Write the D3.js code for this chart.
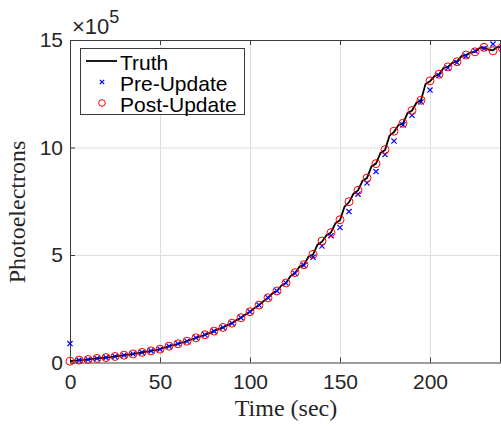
<!DOCTYPE html>
<html>
<head>
<meta charset="utf-8">
<script src="https://cdn.jsdelivr.net/npm/d3@7"></script>
<style>
  body { margin: 0; background: #fff; }
  svg { display: block; }
  .tick text { font-family: "Liberation Sans", Arial, sans-serif; font-size: 21px; fill: #262626; }
</style>
</head>
<body>
<div id="chart"></div>
<script>
// marker times (every 5 s)
var markerTime = d3.range(0, 241, 5);
// Post-Update estimates (x1e5)
var postUpdate = [0.06, 0.11, 0.14, 0.19, 0.23, 0.28, 0.34, 0.40, 0.47, 0.54,
  0.62, 0.76, 0.87, 0.99, 1.15, 1.29, 1.46, 1.63, 1.83, 2.08,
  2.36, 2.67, 3.01, 3.33, 3.70, 4.18, 4.55, 5.03, 5.65, 6.04,
  6.64, 7.48, 8.01, 8.58, 9.25, 9.90, 10.76, 11.13, 11.72, 12.20,
  13.10, 13.41, 13.75, 13.99, 14.30, 14.45, 14.66, 14.50, 14.65];
// Pre-Update estimates (x1e5)
var preUpdate = [0.88, 0.11, 0.14, 0.19, 0.23, 0.28, 0.34, 0.40, 0.47, 0.54,
  0.62, 0.76, 0.87, 0.99, 1.15, 1.29, 1.46, 1.63, 1.83, 2.08,
  2.36, 2.67, 3.01, 3.33, 3.70, 4.15, 4.52, 4.90, 5.42, 5.90,
  6.28, 7.02, 7.83, 8.35, 8.88, 9.67, 10.30, 11.05, 11.50, 12.12,
  12.67, 13.35, 13.70, 13.95, 14.25, 14.50, 14.60, 14.81, 14.60];
// Truth (every 2.5 s, x1e5)
var truthTime = d3.range(0, 240.1, 2.5);
var truth = [0.06, 0.09, 0.11, 0.12, 0.14, 0.17, 0.19, 0.21, 0.23, 0.25,
  0.28, 0.31, 0.34, 0.37, 0.40, 0.43, 0.47, 0.51, 0.54, 0.58,
  0.62, 0.69, 0.76, 0.81, 0.87, 0.93, 0.99, 1.07, 1.15, 1.22,
  1.29, 1.37, 1.46, 1.55, 1.63, 1.74, 1.83, 1.97, 2.08, 2.23,
  2.36, 2.53, 2.67, 2.85, 3.01, 3.22, 3.33, 3.58, 3.70, 4.02,
  4.16, 4.45, 4.55, 4.92, 5.02, 5.48, 5.62, 5.92, 6.05, 6.48,
  6.62, 7.25, 7.45, 7.85, 8.00, 8.45, 8.58, 9.12, 9.25, 9.75,
  9.88, 10.55, 10.72, 11.05, 11.12, 11.60, 11.72, 12.08, 12.20, 12.95,
  13.08, 13.32, 13.40, 13.70, 13.75, 13.95, 14.00, 14.25, 14.30, 14.42,
  14.45, 14.62, 14.65, 14.55, 14.52, 14.68, 14.62];
var xTicks = [0, 50, 100, 150, 200];
var yTicks = [0, 5, 10, 15];
var legendLabels = ["Truth", "Pre-Update", "Post-Update"];

var width = 501, height = 427;
var margin = {top: 40, right: 0.5, bottom: 64.5, left: 70};
var axisColor = "#3a3a3a";

var svg = d3.select("#chart").append("svg")
  .attr("width", width)
  .attr("height", height);

var x = d3.scaleLinear().domain([0, 240]).range([margin.left, width - margin.right + 1.5]);
var y = d3.scaleLinear().domain([0, 15]).range([height - margin.bottom, margin.top]);
var plotH = y(0) - y(15);

svg.append("defs").append("clipPath").attr("id", "clip")
  .append("rect")
  .attr("x", margin.left).attr("y", margin.top)
  .attr("width", width - margin.right - margin.left).attr("height", plotH);

// grid
var grid = svg.append("g").attr("class", "grid");
grid.append("g")
  .attr("transform", "translate(0," + y(0) + ")")
  .call(d3.axisBottom(x).tickValues(xTicks.slice(1)).tickSize(-plotH).tickFormat(""));
grid.append("g")
  .attr("transform", "translate(" + margin.left + ",0)")
  .call(d3.axisLeft(y).tickValues(yTicks.slice(1, 3)).tickSize(-(width - margin.left)).tickFormat(""));
grid.selectAll(".tick line").attr("stroke", "#dedede").attr("stroke-width", 1);
grid.selectAll(".domain").remove();

// box edges
svg.append("line")
  .attr("x1", width - 0.5).attr("x2", width - 0.5)
  .attr("y1", y(15)).attr("y2", y(0))
  .attr("stroke", axisColor);
var topAxis = svg.append("g")
  .attr("transform", "translate(0," + y(15) + ")")
  .call(d3.axisTop(x).tickValues(xTicks).tickSize(-5).tickSizeOuter(0).tickFormat(""));

// axes
var xAxis = svg.append("g")
  .attr("transform", "translate(0," + y(0) + ")")
  .call(d3.axisBottom(x).tickValues(xTicks).tickSize(-5).tickSizeOuter(0).tickPadding(12));
var yAxis = svg.append("g")
  .attr("transform", "translate(" + margin.left + ",0)")
  .call(d3.axisLeft(y).tickValues(yTicks).tickSize(-5).tickSizeOuter(0).tickPadding(7));
[topAxis, xAxis, yAxis].forEach(function(g) {
  g.selectAll(".domain").attr("stroke", axisColor).attr("stroke-width", 1);
  g.selectAll(".tick line").attr("stroke", axisColor);
});

// exponent
var expo = svg.append("text")
  .attr("x", 72).attr("y", 34)
  .style("font-family", "Liberation Sans, Arial, sans-serif")
  .style("font-size", "22px")
  .attr("fill", "#262626");
expo.append("tspan").text("\u00d710");
expo.append("tspan").attr("dy", -11).style("font-size", "18px").text("5");

// axis labels
svg.append("text")
  .attr("x", 286).attr("y", 416)
  .attr("text-anchor", "middle")
  .style("font-family", "Liberation Serif, Times New Roman, serif")
  .style("font-size", "24px")
  .attr("fill", "#262626")
  .text("Time (sec)");
svg.append("text")
  .attr("transform", "translate(25," + 212 + ") rotate(-90)")
  .attr("text-anchor", "middle")
  .style("font-family", "Liberation Serif, Times New Roman, serif")
  .style("font-size", "24px")
  .attr("fill", "#262626")
  .text("Photoelectrons");

// data
var plot = svg.append("g").attr("clip-path", "url(#clip)");
var line = d3.line().x(function(d, i) { return x(truthTime[i]); }).y(function(d) { return y(d); });
plot.append("path")
  .datum(truth)
  .attr("d", line)
  .attr("fill", "none")
  .attr("stroke", "#000")
  .attr("stroke-width", 1.8);

function crossPath(s) {
  return "M" + (-s) + "," + (-s) + "L" + s + "," + s + "M" + (-s) + "," + s + "L" + s + "," + (-s);
}

svg.append("g").selectAll("path")
  .data(preUpdate)
  .enter().append("path")
  .attr("transform", function(d, i) { return "translate(" + x(markerTime[i]) + "," + y(d) + ")"; })
  .attr("d", crossPath(2.6))
  .attr("stroke", "#0000ff")
  .attr("stroke-width", 1.2)
  .attr("fill", "none");

svg.append("g").selectAll("circle")
  .data(postUpdate)
  .enter().append("circle")
  .attr("cx", function(d, i) { return x(markerTime[i]); })
  .attr("cy", function(d) { return y(d); })
  .attr("r", 4)
  .attr("fill", "none")
  .attr("stroke", "#ff0000")
  .attr("stroke-width", 1);

// legend
var legend = svg.append("g");
legend.append("rect")
  .attr("x", 80.5).attr("y", 48.5)
  .attr("width", 164).attr("height", 66)
  .attr("fill", "#fff")
  .attr("stroke", axisColor)
  .attr("stroke-width", 1);
var rows = [61, 82, 103];
legend.append("line")
  .attr("x1", 86).attr("x2", 117).attr("y1", rows[0]).attr("y2", rows[0])
  .attr("stroke", "#000").attr("stroke-width", 1.8);
legend.append("path")
  .attr("transform", "translate(102," + rows[1] + ")")
  .attr("d", crossPath(2.2))
  .attr("stroke", "#0000ff").attr("stroke-width", 1.2);
legend.append("circle")
  .attr("cx", 102).attr("cy", rows[2]).attr("r", 3.3)
  .attr("fill", "none").attr("stroke", "#ff0000").attr("stroke-width", 1);
legend.selectAll("text.lab")
  .data(legendLabels)
  .enter().append("text")
  .attr("class", "lab")
  .attr("x", 120)
  .attr("y", function(d, i) { return rows[i] + 5; })
  .attr("dy", "0.2em")
  .style("font-family", "Liberation Sans, Arial, sans-serif")
  .style("font-size", "21px")
  .attr("fill", "#000")
  .text(function(d) { return d; });
</script>
</body>
</html>
